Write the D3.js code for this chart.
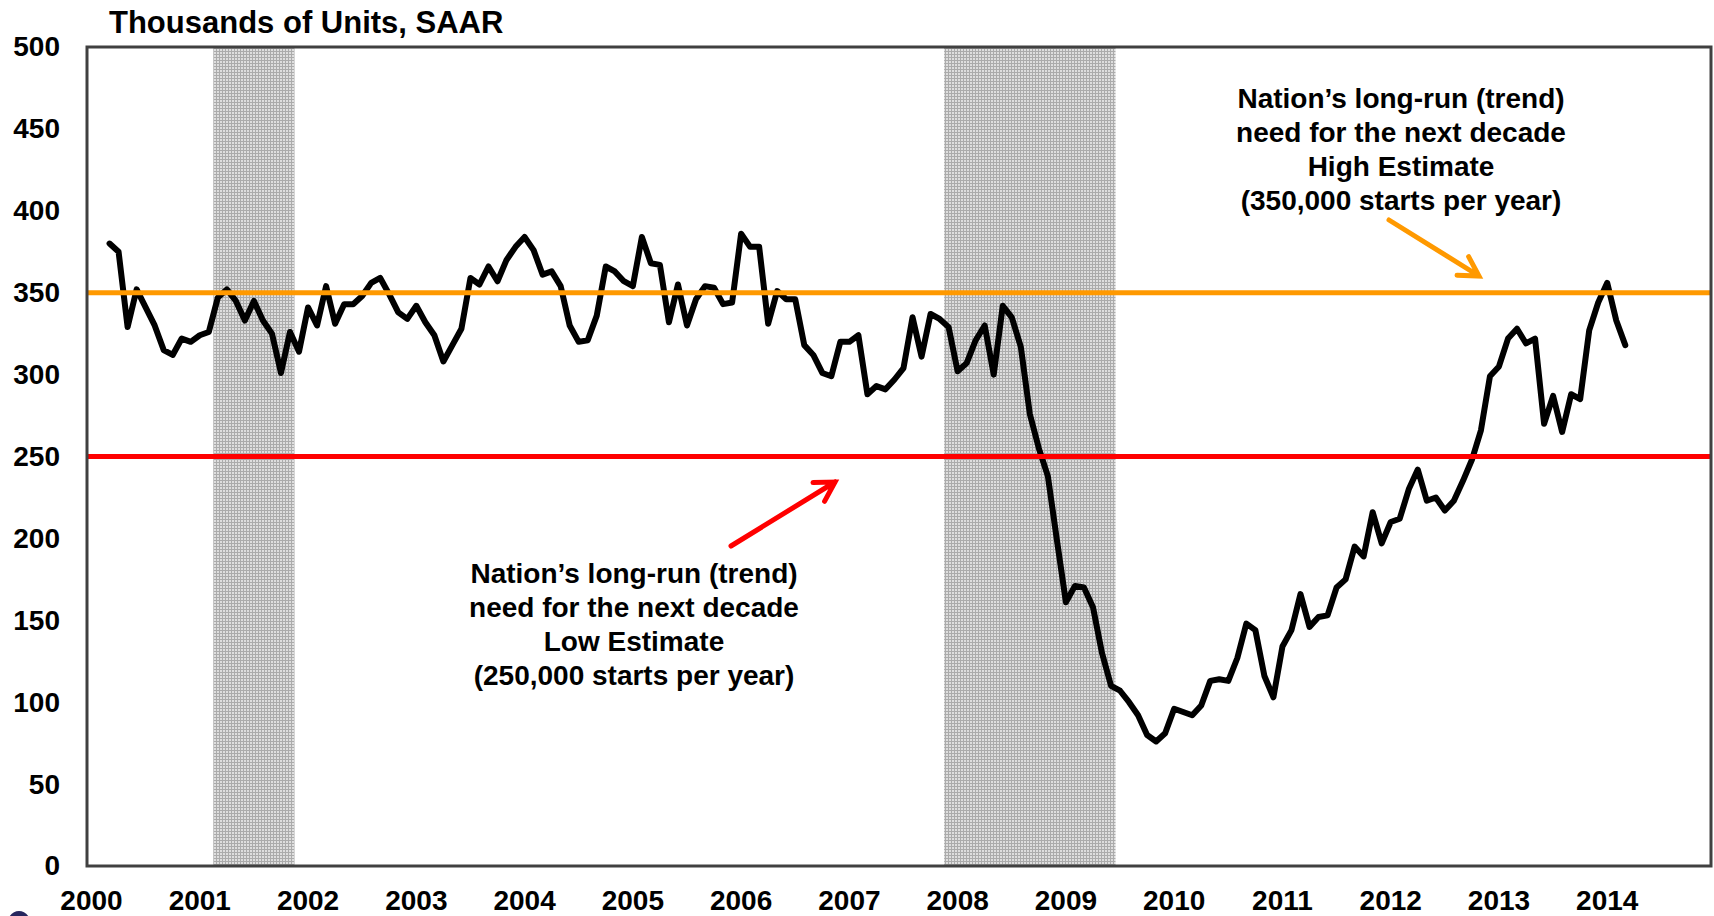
<!DOCTYPE html>
<html>
  <head>
    <meta charset="utf-8" />
    <title>Housing starts vs long-run need</title>
    <script src="https://d3js.org/d3.v7.min.js"></script>
    <style>
      body {
        margin: 0;
        background: white;
      }
      text {
        font-family: "Liberation Sans", Arial, sans-serif;
        font-weight: bold;
        fill: black;
      }
    </style>
  </head>
  <body>
    <svg id="chart" width="1714" height="916"></svg>

    <script>
      // monthly series, Mar 2000 .. Mar 2014 (thousands of units, SAAR)
      const firstMonth = 2; // index of Mar 2000 counted from Jan 2000
      const starts = [
        380, 375, 329, 352, 341, 330, 315, 312, 322, 320,
        324, 326, 347, 352, 345, 333, 345, 333, 325, 301, 326, 314,
        341, 330, 354, 331, 343, 343, 348, 356, 359, 349, 338, 334,
        342, 332, 324, 308, 318, 328, 359, 355, 366, 357, 370, 378,
        384, 376, 361, 363, 354, 330, 320, 321, 336, 366, 363, 357,
        354, 384, 368, 367, 332, 355, 330, 346, 354, 353, 343, 344,
        386, 378, 378, 331, 351, 346, 346, 318, 312, 301, 299, 320,
        320, 324, 288, 293, 291, 297, 304, 335, 311, 337, 334, 329,
        302, 307, 321, 330, 300, 342, 335, 317, 276, 255, 238, 199,
        161, 171, 170, 158, 130, 110, 107, 100, 92, 80, 76, 81,
        96, 94, 92, 98, 113, 114, 113, 127, 148, 144, 116, 103,
        134, 144, 166, 146, 152, 153, 170, 175, 195, 189, 216, 197,
        210, 212, 230, 242, 223, 225, 217, 223, 235, 248, 266, 299,
        305, 322, 328, 319, 322, 270, 287, 265, 288, 285, 327, 344,
        356, 333, 318,
      ];

      const years = [2000, 2001, 2002, 2003, 2004, 2005, 2006, 2007,
        2008, 2009, 2010, 2011, 2012, 2013, 2014];
      const yTicks = [0, 50, 100, 150, 200, 250, 300, 350, 400, 450, 500];

      // recessions as [first month index, last month index]
      const recessions = [[14, 22], [95, 113]];

      const trendLevels = [350, 250];
      const trendColors = ["#ff9900", "#ff0000"];

      const highNote = ["Nation\u2019s long-run (trend)", "need for the next decade",
        "High Estimate", "(350,000 starts per year)"];
      const lowNote = ["Nation\u2019s long-run (trend)", "need for the next decade",
        "Low Estimate", "(250,000 starts per year)"];

      const svg = d3.select("#chart");
      const plot = { left: 87, right: 1711, top: 47, bottom: 866 };

      const monthCount = years.length * 12;
      const x = d3
        .scaleBand()
        .domain(d3.range(monthCount))
        .range([plot.left, plot.right])
        .padding(0);
      const xc = (i) => x(i) + x.bandwidth() / 2;

      const y = d3.scaleLinear().domain([0, 500]).range([plot.bottom, plot.top]);

      // dotted grey fill for recession bars
      const pat = svg
        .append("defs")
        .append("pattern")
        .attr("id", "dots")
        .attr("width", 3)
        .attr("height", 3)
        .attr("patternUnits", "userSpaceOnUse");
      pat.append("rect").attr("width", 3).attr("height", 3).attr("fill", "#dedede");
      pat.append("rect").attr("width", 3).attr("height", 1).attr("fill", "#ababab");
      pat.append("rect").attr("width", 1).attr("height", 3).attr("fill", "#ababab");

      svg
        .selectAll("rect.recession")
        .data(recessions)
        .join("rect")
        .attr("class", "recession")
        .attr("x", (d) => x(d[0]))
        .attr("width", (d) => x(d[1]) + x.bandwidth() - x(d[0]))
        .attr("y", plot.top)
        .attr("height", plot.bottom - plot.top)
        .attr("fill", "url(#dots)");

      // the series
      const line = d3
        .line()
        .x((d, i) => xc(firstMonth + i))
        .y((d) => y(d));

      svg
        .append("path")
        .datum(starts)
        .attr("d", line)
        .attr("fill", "none")
        .attr("stroke", "black")
        .attr("stroke-width", 6)
        .attr("stroke-linejoin", "round")
        .attr("stroke-linecap", "round");

      // long-run need lines
      svg
        .selectAll("line.trend")
        .data(trendLevels)
        .join("line")
        .attr("class", "trend")
        .attr("x1", plot.left)
        .attr("x2", plot.right)
        .attr("y1", (d) => y(d))
        .attr("y2", (d) => y(d))
        .attr("stroke", (d, i) => trendColors[i])
        .attr("stroke-width", 5);

      // frame
      svg
        .append("rect")
        .attr("x", plot.left)
        .attr("y", plot.top)
        .attr("width", plot.right - plot.left)
        .attr("height", plot.bottom - plot.top)
        .attr("fill", "none")
        .attr("stroke", "#404040")
        .attr("stroke-width", 3);

      // axes
      const yAxis = svg
        .append("g")
        .attr("transform", "translate(" + plot.left + ",0)")
        .call(d3.axisLeft(y).tickValues(yTicks).tickSize(0).tickPadding(27));
      yAxis.select(".domain").remove();
      yAxis.selectAll("text").style("font-size", "28px").attr("fill", "black");

      const xAxis = svg
        .append("g")
        .attr("transform", "translate(0," + plot.bottom + ")")
        .call(
          d3
            .axisBottom(x)
            .tickValues(years.map((yr) => (yr - years[0]) * 12))
            .tickFormat((i) => years[0] + i / 12)
            .tickSize(0)
            .tickPadding(24)
        );
      xAxis.select(".domain").remove();
      xAxis.selectAll("text").style("font-size", "28px").attr("fill", "black");

      // title
      svg
        .append("text")
        .attr("x", 109)
        .attr("y", 33)
        .style("font-size", "31px")
        .text("Thousands of Units, SAAR");

      // notes
      function note(lines, cx, firstBaseline) {
        svg
          .append("text")
          .attr("text-anchor", "middle")
          .style("font-size", "28px")
          .selectAll("tspan")
          .data(lines)
          .join("tspan")
          .attr("x", cx)
          .attr("y", (d, i) => firstBaseline + i * 34)
          .text((d) => d);
      }
      note(highNote, 1401, 108);
      note(lowNote, 634, 583);

      function arrow(x1, y1, x2, y2, color) {
        const a = Math.atan2(y2 - y1, x2 - x1);
        const len = 22;
        const spread = Math.PI / 6;
        const b1 = [x2 - len * Math.cos(a - spread), y2 - len * Math.sin(a - spread)];
        const b2 = [x2 - len * Math.cos(a + spread), y2 - len * Math.sin(a + spread)];
        svg
          .append("path")
          .attr(
            "d",
            "M" + x1 + "," + y1 + "L" + x2 + "," + y2 +
              "M" + b1[0] + "," + b1[1] + "L" + x2 + "," + y2 + "L" + b2[0] + "," + b2[1]
          )
          .attr("fill", "none")
          .attr("stroke", color)
          .attr("stroke-width", 5)
          .attr("stroke-linecap", "round")
          .attr("stroke-linejoin", "miter");
      }
      arrow(1389, 220, 1479, 276, trendColors[0]);
      arrow(731, 546, 835, 482, trendColors[1]);

      // corner of a logo cut off at the bottom left
      svg
        .append("ellipse")
        .attr("cx", 19)
        .attr("cy", 928)
        .attr("rx", 13)
        .attr("ry", 17)
        .attr("fill", "#26265e");
    </script>
  </body>
</html>
